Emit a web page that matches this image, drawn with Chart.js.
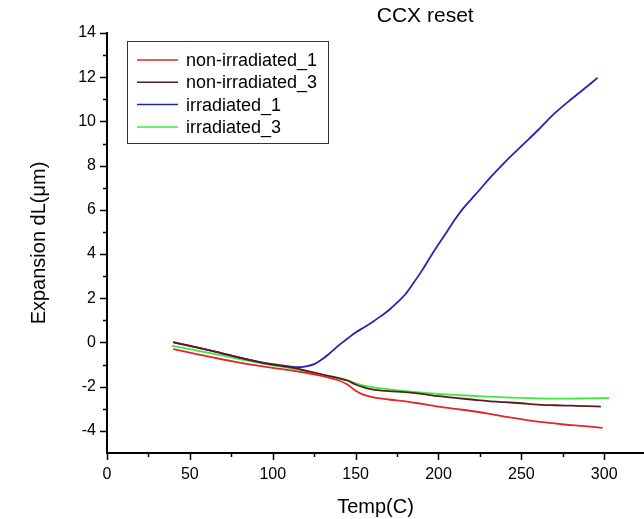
<!DOCTYPE html>
<html>
<head>
<meta charset="utf-8">
<title>CCX reset</title>
<script src="https://cdn.jsdelivr.net/npm/chart.js@4.4.1/dist/chart.umd.min.js"></script>
<style>
  html, body { margin: 0; padding: 0; background: #fff; }
  canvas { display: block; }
</style>
</head>
<body>
<canvas id="chart" width="644" height="519"></canvas>
<script>
// CCX reset — thermal expansion curves

// ----------------- Data ----------------
const nonIrr1T = [40, 50, 60, 70, 80, 90, 100, 110, 120, 130, 140, 145, 150, 155, 160, 170, 180, 190, 200, 210, 220, 230, 240, 250, 260, 270, 280, 290, 299];
const nonIrr1V = [-0.30, -0.46, -0.62, -0.77, -0.91, -1.04, -1.15, -1.25, -1.37, -1.52, -1.72, -1.90, -2.18, -2.37, -2.47, -2.58, -2.66, -2.78, -2.90, -3.00, -3.10, -3.22, -3.35, -3.47, -3.58, -3.66, -3.74, -3.80, -3.86];

const nonIrr3T = [40, 50, 60, 70, 80, 90, 100, 110, 120, 130, 140, 145, 150, 155, 160, 170, 180, 190, 200, 210, 220, 230, 240, 250, 260, 270, 280, 290, 298];
const nonIrr3V = [0.02, -0.15, -0.32, -0.50, -0.68, -0.85, -1.00, -1.12, -1.27, -1.45, -1.62, -1.72, -1.90, -2.03, -2.12, -2.20, -2.25, -2.33, -2.43, -2.51, -2.58, -2.65, -2.70, -2.75, -2.81, -2.84, -2.86, -2.88, -2.90];

const irr1T = [40, 50, 60, 70, 80, 90, 100, 110, 115, 120, 125, 130, 135, 140, 145, 150, 155, 160, 165, 170, 175, 180, 185, 190, 195, 200, 205, 210, 215, 220, 225, 230, 240, 250, 260, 270, 280, 290, 296];
const irr1V = [0.00, -0.15, -0.32, -0.50, -0.68, -0.85, -0.98, -1.08, -1.12, -1.08, -0.98, -0.75, -0.45, -0.12, 0.17, 0.45, 0.68, 0.92, 1.18, 1.46, 1.80, 2.18, 2.70, 3.25, 3.86, 4.44, 5.00, 5.57, 6.08, 6.50, 6.92, 7.36, 8.15, 8.88, 9.60, 10.36, 11.00, 11.60, 11.98];

const irr3T = [39, 50, 60, 70, 80, 90, 100, 110, 120, 130, 140, 145, 150, 155, 160, 170, 180, 190, 200, 210, 220, 230, 240, 250, 260, 270, 280, 290, 303];
const irr3V = [-0.15, -0.30, -0.45, -0.60, -0.75, -0.90, -1.03, -1.15, -1.30, -1.45, -1.60, -1.70, -1.85, -1.95, -2.02, -2.12, -2.20, -2.27, -2.33, -2.37, -2.41, -2.45, -2.48, -2.51, -2.53, -2.54, -2.54, -2.53, -2.52];

const seriesLabels = ["non-irradiated_1", "non-irradiated_3", "irradiated_1", "irradiated_3"];
const seriesColors = ["#e3262b", "#5a1c1c", "#2424b4", "#3ee83e"];

const xMajorTicks = [0, 50, 100, 150, 200, 250, 300];
const xMinorTicks = [25, 75, 125, 175, 225, 275];
const yMajorTicks = [-4, -2, 0, 2, 4, 6, 8, 10, 12, 14];
const yMinorTicks = [-3, -1, 1, 3, 5, 7, 9, 11, 13];

const chartTitle = "CCX reset";
const FONT = "'Liberation Sans', Arial, sans-serif";

// ----------------- Helpers ----------------
const toPoints = (xs, ys) => xs.map((x, i) => ({ x, y: ys[i] }));

const datasets = [
  toPoints(nonIrr1T, nonIrr1V),
  toPoints(nonIrr3T, nonIrr3V),
  toPoints(irr1T, irr1V),
  toPoints(irr3T, irr3V)
].map((pts, i) => ({
  label: seriesLabels[i],
  data: pts,
  borderColor: seriesColors[i],
  backgroundColor: seriesColors[i],
  borderWidth: 1.8,
  pointRadius: 0,
  cubicInterpolationMode: "monotone",
  fill: false
}));

// Outward major/minor ticks, title and boxed legend (Origin style)
const decorPlugin = {
  id: "decor",
  afterDraw(chart) {
    const { ctx, chartArea, scales } = chart;
    const xs = scales.x, ys = scales.y;
    ctx.save();
    ctx.strokeStyle = "#000";
    ctx.lineWidth = 1.5;
    ctx.beginPath();
    const xTick = (v, len) => {
      const px = Math.round(xs.getPixelForValue(v)) + 0.5;
      ctx.moveTo(px, chartArea.bottom);
      ctx.lineTo(px, chartArea.bottom + len);
    };
    const yTick = (v, len) => {
      const py = Math.round(ys.getPixelForValue(v)) + 0.5;
      ctx.moveTo(chartArea.left, py);
      ctx.lineTo(chartArea.left - len, py);
    };
    xMajorTicks.forEach((v) => xTick(v, 7));
    xMinorTicks.forEach((v) => xTick(v, 4));
    yMajorTicks.forEach((v) => yTick(v, 7));
    yMinorTicks.forEach((v) => yTick(v, 4));
    ctx.stroke();

    // title
    ctx.fillStyle = "#000";
    ctx.font = "21px " + FONT;
    ctx.textAlign = "center";
    ctx.textBaseline = "middle";
    ctx.fillText(chartTitle, xs.getPixelForValue(192), 16);

    // legend box
    const bx = chartArea.left + 20, by = chartArea.top + 8;
    const bw = 201, bh = 102;
    ctx.fillStyle = "#fff";
    ctx.fillRect(bx, by, bw, bh);
    ctx.strokeStyle = "#333";
    ctx.lineWidth = 1;
    ctx.strokeRect(bx + 0.5, by + 0.5, bw, bh);
    ctx.font = "18px " + FONT;
    ctx.textAlign = "left";
    chart.data.datasets.forEach((ds, i) => {
      const ry = by + 19 + i * 22.3;
      ctx.strokeStyle = ds.borderColor;
      ctx.lineWidth = 1.5;
      ctx.beginPath();
      ctx.moveTo(bx + 10, ry);
      ctx.lineTo(bx + 51, ry);
      ctx.stroke();
      ctx.fillStyle = "#000";
      ctx.fillText(ds.label, bx + 59, ry + 1);
    });
    ctx.restore();
  }
};

// ----------------- Chart ----------------
new Chart(document.getElementById("chart"), {
  type: "line",
  data: { datasets },
  plugins: [decorPlugin],
  options: {
    responsive: false,
    animation: false,
    layout: { padding: { top: 33, right: 0, bottom: 0, left: 0 } },
    plugins: {
      legend: { display: false },
      title: { display: false },
      tooltip: { enabled: false }
    },
    scales: {
      x: {
        type: "linear",
        min: 0,
        max: 324,
        afterBuildTicks: (s) => { s.ticks = xMajorTicks.map((v) => ({ value: v })); },
        afterFit: (s) => { s.height = 66; },
        grid: { display: false, drawTicks: false },
        border: { display: true, color: "#000", width: 2 },
        ticks: {
          color: "#000",
          font: { size: 16, family: FONT },
          padding: 12,
          maxRotation: 0,
          autoSkip: false
        },
        title: {
          display: true,
          text: "Temp(C)",
          color: "#000",
          font: { size: 20, family: FONT },
          padding: { top: 0, bottom: 0 }
        }
      },
      y: {
        type: "linear",
        min: -5,
        max: 14,
        afterBuildTicks: (s) => { s.ticks = yMajorTicks.map((v) => ({ value: v })); },
        afterFit: (s) => { s.width = 107; },
        grid: { display: false, drawTicks: false },
        border: { display: true, color: "#000", width: 2 },
        ticks: {
          color: "#000",
          font: { size: 16, family: FONT },
          padding: 11,
          autoSkip: false
        },
        title: {
          display: true,
          text: "Expansion dL(\u03bcm)",
          color: "#000",
          font: { size: 20, family: FONT },
          padding: { top: 27, bottom: 0 }
        }
      }
    }
  }
});
</script>
</body>
</html>
